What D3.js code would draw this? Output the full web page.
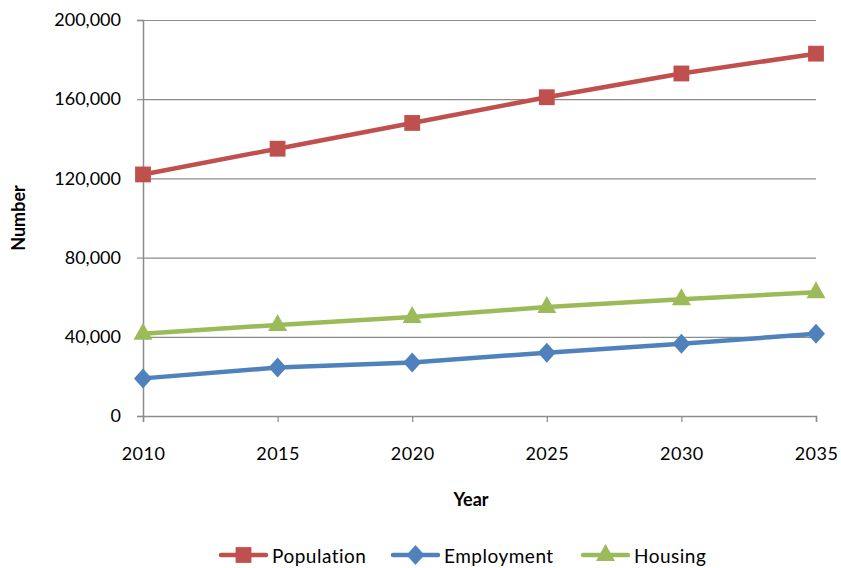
<!DOCTYPE html>
<html>
<head>
<meta charset="utf-8">
<script src="https://cdn.jsdelivr.net/npm/d3@7"></script>
<style>
  html, body { margin: 0; padding: 0; background: #fff; }
  svg { display: block; font-family: Lato, "Open Sans", sans-serif; }
</style>
</head>
<body>
<svg id="chart" width="841" height="568"></svg>
<script>
// Projection years and series values
const years = [2010, 2015, 2020, 2025, 2030, 2035];
const population = [122000, 135000, 148000, 161000, 173000, 183000];
const employment = [19000, 24500, 27000, 32000, 36500, 41500];
const housing = [41500, 46000, 50000, 55000, 59000, 62500];
const yTicks = [0, 40000, 80000, 120000, 160000, 200000];
const seriesNames = ["Population", "Employment", "Housing"];
const seriesColors = ["#C0504D", "#4F81BD", "#9BBB59"];
const seriesMarkers = ["square", "diamond", "triangle"];

const FONT = "Lato, 'Open Sans', sans-serif";
const FS = 18;

const series = [population, employment, housing].map((vals, i) => ({
  name: seriesNames[i], color: seriesColors[i], marker: seriesMarkers[i],
  values: vals.map((v, j) => ({ year: years[j], value: v }))
}));

const svg = d3.select("#chart");

const x = d3.scaleLinear().domain([2010, 2035]).range([143, 816]);
const y = d3.scaleLinear().domain([0, 200000]).range([416, 20]);

const fmt = d3.format(",");

// Horizontal gridlines
svg.append("g").selectAll("line").data(yTicks.filter(d => d > 0)).join("line")
  .attr("x1", x(2010)).attr("x2", x(2035))
  .attr("y1", d => y(d) + 0.5).attr("y2", d => y(d) + 0.5)
  .attr("stroke", "#8C8C8C").attr("stroke-width", 1.2);

// Y axis
const yAxis = svg.append("g").attr("transform", `translate(${x(2010)},0)`)
  .call(d3.axisLeft(y).tickValues(yTicks).tickFormat(fmt).tickSize(6).tickPadding(16));
yAxis.attr("font-family", FONT).attr("font-size", FS);
yAxis.select(".domain").attr("stroke", "#8C8C8C").attr("stroke-width", 1.5);
yAxis.selectAll(".tick line").attr("stroke", "#8C8C8C").attr("stroke-width", 1.2);
yAxis.selectAll(".tick text").attr("fill", "#000");

// X axis
const xAxis = svg.append("g").attr("transform", `translate(0,${y(0)})`)
  .call(d3.axisBottom(x).tickValues(years).tickFormat(d3.format("d")).tickSize(6).tickPadding(25));
xAxis.attr("font-family", FONT).attr("font-size", FS);
xAxis.select(".domain").attr("stroke", "#8C8C8C").attr("stroke-width", 1.5);
xAxis.selectAll(".tick line").attr("stroke", "#8C8C8C").attr("stroke-width", 1.2);
xAxis.selectAll(".tick text").attr("fill", "#000").attr("letter-spacing", 0.5);

// Axis titles
svg.append("text").attr("x", 471).attr("y", 506).attr("text-anchor", "middle")
  .attr("font-family", FONT).attr("font-size", FS).attr("font-weight", "bold").text("Year");
svg.append("text").attr("transform", "translate(25,218) rotate(-90)")
  .attr("text-anchor", "middle").attr("font-family", FONT).attr("font-size", FS)
  .attr("font-weight", "bold").text("Number");

// Marker shapes
function markerPath(type) {
  if (type === "square") return d3.symbol(d3.symbolSquare, 250)();
  if (type === "diamond") return "M0,-10L9,0L0,10L-9,0Z";
  return "M0,-10L9.5,7L-9.5,7Z";
}

const line = d3.line().x(d => x(d.year)).y(d => y(d.value));

const g = svg.append("g").selectAll("g").data(series).join("g");
g.append("path").attr("d", d => line(d.values)).attr("fill", "none")
  .attr("stroke", d => d.color).attr("stroke-width", 4.5).attr("stroke-linejoin", "round");
g.each(function (s) {
  d3.select(this).selectAll(".m").data(s.values).join("path").attr("class", "m")
    .attr("transform", d => `translate(${x(d.year)},${y(d.value) + (s.marker === "triangle" ? -1 : 0)})`)
    .attr("d", markerPath(s.marker)).attr("fill", s.color);
});

// Legend
const legendX = [221, 393, 583];
const legend = svg.append("g").selectAll("g").data(series).join("g")
  .attr("transform", (d, i) => `translate(${legendX[i]},555)`);
legend.append("line").attr("x1", 0).attr("x2", 45).attr("stroke", d => d.color)
  .attr("stroke-width", 4.5).attr("stroke-linecap", "round");
legend.append("path").attr("transform", d => `translate(22.5,${d.marker === "triangle" ? -1 : 0})`)
  .attr("d", d => markerPath(d.marker)).attr("fill", d => d.color);
legend.append("text").attr("x", 51).attr("y", 8).attr("font-family", FONT)
  .attr("font-size", 19).attr("letter-spacing", 0.5).text(d => d.name);
</script>
</body>
</html>
